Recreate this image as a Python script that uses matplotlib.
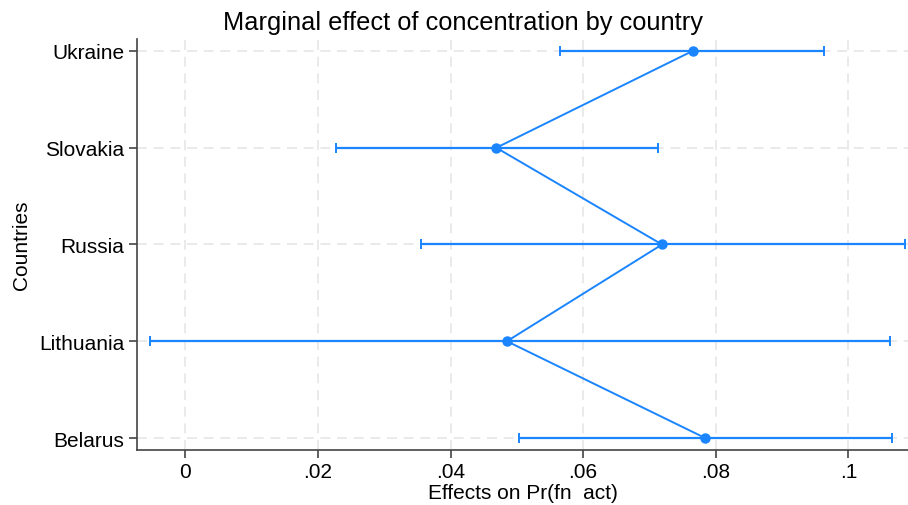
import matplotlib
matplotlib.use("Agg")
import matplotlib.pyplot as plt
import numpy as np

plt.rcParams['font.family'] = ['Liberation Sans', 'DejaVu Sans']

countries = ["Belarus", "Lithuania", "Russia", "Slovakia", "Ukraine"]
effects = [0.0784, 0.0485, 0.0719, 0.0469, 0.0765]
ci_low = [0.0503, -0.0054, 0.0355, 0.0227, 0.0565]
ci_high = [0.1066, 0.1063, 0.1086, 0.0713, 0.0964]
xticks = [0, 0.02, 0.04, 0.06, 0.08, 0.1]
xticklabels = ["0", ".02", ".04", ".06", ".08", ".1"]

color = "#1a85ff"
fig = plt.figure(figsize=(9.08, 5.06), dpi=100)
ax = fig.add_axes([137/908, 1 - 451/506, (908 - 137)/908, (451 - 40)/506])

y = np.arange(len(countries))
eff = np.array(effects)
lo = np.array(ci_low)
hi = np.array(ci_high)
ax.errorbar(eff, y, xerr=[eff - lo, hi - eff], fmt='o-', color=color,
            ecolor=color, elinewidth=1.6, lw=1.4, capsize=3.5, capthick=1.4,
            markersize=6.5, zorder=3)

ax.set_xlim(-0.0073, 0.109)
ax.set_ylim(-0.124, 4.124)
ax.set_xticks(xticks)
ax.set_xticklabels(xticklabels, fontsize=15)
ax.set_yticks(y)
ax.set_yticklabels(countries, fontsize=15)
ax.grid(True, color="#e6e6e6", linestyle=(0, (6, 4)), linewidth=1.2, zorder=0)
ax.set_axisbelow(True)
for s in ["top", "right"]:
    ax.spines[s].set_visible(False)
for s in ["left", "bottom"]:
    ax.spines[s].set_color("#444444")
    ax.spines[s].set_linewidth(1.2)
ax.tick_params(axis='both', length=6, width=1.2, color="#444444")
ax.tick_params(axis='y', pad=3)
ax.tick_params(axis='x', pad=3)
ax.set_xlabel("Effects on Pr(fn  act)", fontsize=15, labelpad=1)
ax.set_ylabel("Countries", fontsize=15, labelpad=6)
fig.text(0.51, 0.955, "Marginal effect of concentration by country",
         ha='center', va='center', fontsize=18.3)

fig.savefig("out.png", dpi=100)
